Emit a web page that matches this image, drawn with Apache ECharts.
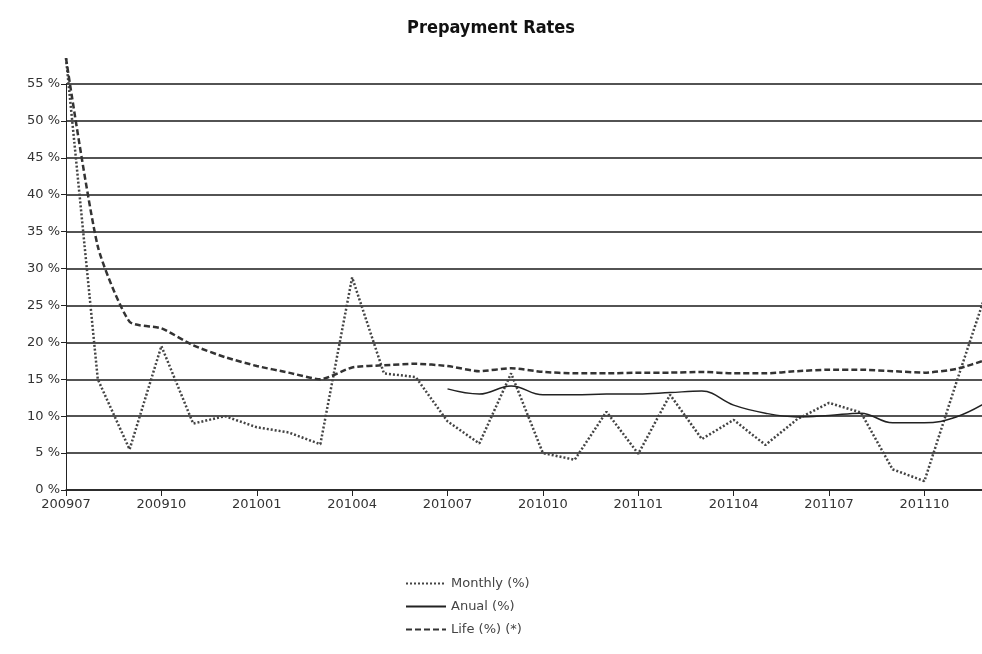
<!DOCTYPE html>
<html>
<head>
<meta charset="utf-8">
<title>Prepayment Rates</title>
<script src="https://cdn.jsdelivr.net/npm/echarts@6/dist/echarts.min.js"></script>
<style>
  html, body { margin: 0; padding: 0; background: #fff; }
  #chart { width: 982px; height: 654px; }
</style>
</head>
<body>
<div id="chart"></div>
<script>
// months on the x axis
var months = [
  "200907", "200908", "200909", "200910", "200911", "200912",
  "201001", "201002", "201003", "201004", "201005", "201006",
  "201007", "201008", "201009", "201010", "201011", "201012",
  "201101", "201102", "201103", "201104", "201105", "201106",
  "201107", "201108", "201109", "201110", "201111", "201112"
];

// values (%)
var monthly = [58.5, 15, 5.5, 19.5, 9, 10, 8.5, 7.8, 6.2, 28.8, 15.8, 15.3, 9.3, 6.3, 15.8,
  5, 4.1, 10.6, 4.9, 12.9, 6.9, 9.5, 6.1, 9.6, 11.8, 10.5, 2.8, 1.2, 14.5, 27.5];
var anual = [null, null, null, null, null, null, null, null, null, null, null, null,
  13.7, 13.0, 14.1, 12.9, 12.9, 13.0, 13.0, 13.2, 13.4, 11.5, 10.4, 9.9, 10.1, 10.4, 9.1, 9.1, 9.9, 12.0];
var life = [58.5, 33, 22.8, 21.9, 19.6, 18, 16.8, 15.9, 15, 16.6, 16.9, 17.1, 16.8, 16.1, 16.5,
  16.0, 15.8, 15.8, 15.9, 15.9, 16.0, 15.8, 15.8, 16.1, 16.3, 16.3, 16.1, 15.9, 16.4, 17.7];

var names = ["Monthly (%)", "Anual (%)", "Life (%) (*)"];

var myChart = echarts.init(document.getElementById("chart"));

var option = {
  animation: false,
  backgroundColor: "#fff",
  title: {
    text: "Prepayment Rates",
    left: "center",
    top: 14,
    textStyle: {
      fontFamily: "Liberation Sans Narrow, DejaVu Sans Condensed, sans-serif",
      fontWeight: "bold",
      fontSize: 18,
      color: "#111"
    }
  },
  legend: {
    data: names,
    orient: "vertical",
    left: 400,
    top: 572,
    itemWidth: 40,
    itemHeight: 12,
    itemGap: 10,
    itemStyle: { opacity: 0 },
    textStyle: {
      fontFamily: "DejaVu Sans, sans-serif",
      fontSize: 13,
      color: "#444"
    }
  },
  grid: {
    left: 66,
    width: 922,
    top: 84,
    bottom: 164,
    outerBoundsMode: "none"
  },
  xAxis: {
    type: "category",
    data: months,
    boundaryGap: false,
    axisLine: { lineStyle: { color: "#222", width: 1.5 } },
    axisTick: { interval: 2, length: 6, lineStyle: { color: "#222" } },
    axisLabel: {
      interval: 2,
      margin: 8,
      fontFamily: "DejaVu Sans, sans-serif",
      fontSize: 13,
      color: "#333"
    }
  },
  yAxis: {
    type: "value",
    min: 0,
    max: 55,
    interval: 5,
    axisLine: { show: true, lineStyle: { color: "#222", width: 1 } },
    axisTick: { show: true, length: 5, lineStyle: { color: "#222" } },
    axisLabel: {
      formatter: "{value} %",
      margin: 6,
      fontFamily: "DejaVu Sans, sans-serif",
      fontSize: 13,
      color: "#333"
    },
    splitLine: { show: true, lineStyle: { color: "#1a1a1a", width: 1.5 } }
  },
  series: [
    {
      name: names[0],
      type: "line",
      data: monthly,
      clip: false,
      symbol: "none",
      lineStyle: { color: "#444", width: 2.5, type: [2, 2] },
      itemStyle: { color: "#444" }
    },
    {
      name: names[1],
      type: "line",
      data: anual,
      clip: false,
      smooth: 0.4,
      symbol: "none",
      lineStyle: { color: "#222", width: 1.5, type: "solid" },
      itemStyle: { color: "#222" }
    },
    {
      name: names[2],
      type: "line",
      data: life,
      clip: false,
      smooth: 0.2,
      symbol: "none",
      lineStyle: { color: "#333", width: 2.5, type: [6, 3] },
      itemStyle: { color: "#333" }
    }
  ]
};

myChart.setOption(option);
</script>
</body>
</html>
